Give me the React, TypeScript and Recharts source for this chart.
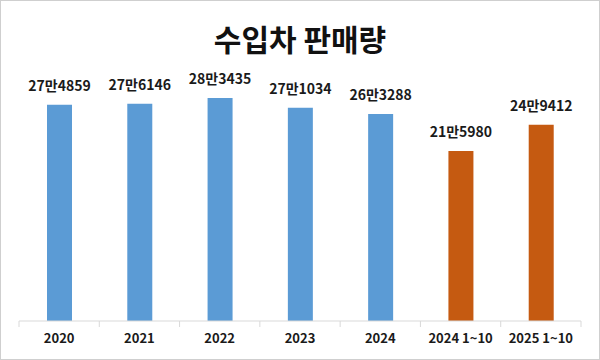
import React from "react";
import { BarChart, Bar, XAxis, YAxis, Cell, LabelList } from "recharts";

const categories = ["2020", "2021", "2022", "2023", "2024", "2024 1~10", "2025 1~10"];
const sales = [274859, 276146, 283435, 271034, 263288, 215980, 249412];
const colors = ["#5B9BD5", "#5B9BD5", "#5B9BD5", "#5B9BD5", "#5B9BD5", "#C55A11", "#C55A11"];
const title = "수입차 판매량";

const fmt = (v: number) => `${Math.floor(v / 10000)}만${String(v % 10000).padStart(4, "0")}`;

const data = categories.map((c, i) => ({ name: c, value: sales[i], label: fmt(sales[i]) }));

const FONT = "'Noto Sans CJK KR', 'Noto Sans', sans-serif";

const Tick = (props: any) => {
  const { x, y, payload, index } = props;
  const off = payload.offset || 0;
  const axisY = y - 8;
  return (
    <g>
      <line x1={x - off} x2={x - off} y1={axisY} y2={axisY + 6} stroke="#d9d9d9" />
      {index === categories.length - 1 && (
        <line x1={x + off} x2={x + off} y1={axisY} y2={axisY + 6} stroke="#d9d9d9" />
      )}
      <text x={x} y={axisY + 22} textAnchor="middle" fontFamily={FONT} fontWeight={700} fontSize={13} fill="#1a1a1a">
        {payload.value}
      </text>
    </g>
  );
};

export default function App() {
  return (
    <div style={{ position: "fixed", left: 0, top: 0, width: 600, height: 360, background: "#fff", boxSizing: "border-box", border: "1px solid #cfcfcf" }}>
      <div style={{ position: "absolute", left: 0, top: 17, width: 598, textAlign: "center", fontFamily: FONT, fontWeight: 700, fontSize: 30, lineHeight: "40px", color: "#111" }}>
        {title}
      </div>
      <div style={{ position: "absolute", left: -1, top: -1 }}>
        <BarChart width={600} height={360} data={data} margin={{ top: 85, right: 19, bottom: 0, left: 19 }}>
          <YAxis hide domain={[0, 300000]} />
          <XAxis dataKey="name" height={39} tickLine={false} axisLine={{ stroke: "#d9d9d9" }} tick={<Tick />} interval={0} />
          <Bar dataKey="value" barSize={25} isAnimationActive={false}>
            {data.map((d, i) => (
              <Cell key={d.name} fill={colors[i]} />
            ))}
            <LabelList dataKey="label" position="top" offset={14} fontFamily={FONT} fontWeight={700} fontSize={14} fill="#1a1a1a" />
          </Bar>
        </BarChart>
      </div>
    </div>
  );
}
